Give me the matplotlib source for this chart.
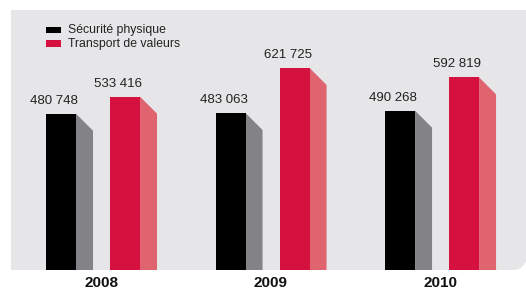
import matplotlib.pyplot as plt
import numpy as np
from matplotlib.patches import Polygon, Rectangle, PathPatch
from matplotlib.path import Path

years = ['2008', '2009', '2010']
securite = [480748, 483063, 490268]
transport = [533416, 621725, 592819]
labels_sec = ['480 748', '483 063', '490 268']
labels_tra = ['533 416', '621 725', '592 819']

W, H = 526, 291
plt.rcParams['font.family'] = ['Liberation Sans', 'DejaVu Sans']
fig = plt.figure(figsize=(W / 100, H / 100), dpi=100)
fig.patch.set_facecolor('white')

# grey panel with rounded bottom-right corner (pixel coords -> figure fraction)
left, top, right, bottom, r = 11, 10, 527, 270, 14
t = np.linspace(0, np.pi / 2, 12)
pts = [(left, top), (right, top), (right, bottom - r)]
pts += [(right - r + r * np.cos(a), bottom - r + r * np.sin(a)) for a in t]
pts += [(left, bottom), (left, top)]
pts = [(x / W, 1 - y / H) for x, y in pts]
panel = PathPatch(Path(pts), transform=fig.transFigure, facecolor='#e6e6e8',
                  edgecolor='none', zorder=-5)
fig.add_artist(panel)

ax = fig.add_axes([11 / W, 21 / H, 515 / W, 260 / H])
ax.set_zorder(1)
ax.set_facecolor('none')
ax.set_xlim(-0.531, 2.507)
ax.set_ylim(0, 800000)
ax.axis('off')

unit = 169.5              # pixels per category step
bw = 30 / unit            # front face width
sw = 17 / unit            # side face width
dy = 17 / 260 * 800000    # side slope drop in data units

x = np.arange(len(years))
offsets = [-55 / unit, 9 / unit]
series = [(securite, labels_sec, '#000000', '#838387'),
          (transport, labels_tra, '#d5123f', '#e0646f')]

for off, (vals, labs, front, side) in zip(offsets, series):
    x0 = x + off
    ax.bar(x0, vals, width=bw, align='edge', color=front, zorder=3)
    for xi, v, lab in zip(x0, vals, labs):
        x1 = xi + bw
        ax.add_patch(Polygon([(x1, 0), (x1, v), (x1 + sw, v - dy), (x1 + sw, 0)],
                             closed=True, facecolor=side, edgecolor='none', zorder=2))
        ax.annotate(lab, (xi + bw / 2, v), xytext=(-7, 13), textcoords='offset pixels',
                    ha='center', va='center', fontsize=9.5, color='#222222')

for xi, yr in zip(x, years):
    ax.text(xi, -13 / 260 * 800000, yr, ha='center', va='center',
            fontsize=11, fontweight='bold', color='#111111', clip_on=False)

# legend
for i, (name, col) in enumerate([('Sécurité physique', '#000000'),
                                 ('Transport de valeurs', '#d5123f')]):
    yc = 30 + i * 13.5
    fig.add_artist(Rectangle((46 / W, 1 - (yc + 3) / H), 15 / W, 6 / H,
                             transform=fig.transFigure, facecolor=col, edgecolor='none'))
    fig.text(68 / W, 1 - yc / H, name, ha='left', va='center', fontsize=8.8, color='#222222')

fig.savefig('out.png', dpi=100)
